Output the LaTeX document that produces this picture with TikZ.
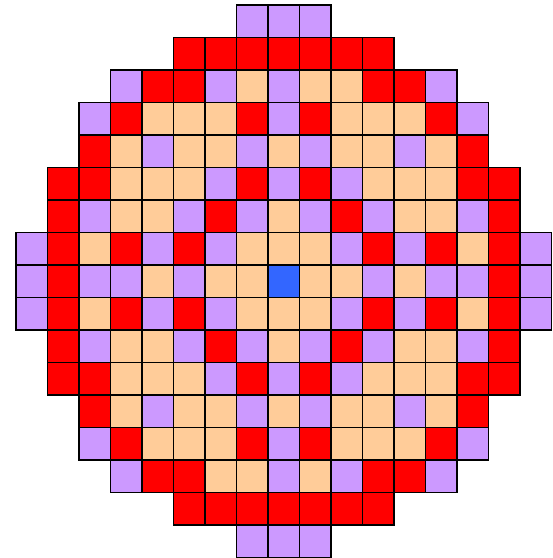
\documentclass[tikz,border=0pt]{standalone}
\usepackage{tikz}

% Colores del mapa de carga (un color por tipo de celda)
\definecolor{L}{RGB}{204,153,255}
\definecolor{R}{RGB}{255,0,0}
\definecolor{P}{RGB}{255,204,153}
\definecolor{B}{RGB}{51,102,255}

\begin{document}
\begin{tikzpicture}[x=1pt, y=-1pt,
    celda/.style={draw=black, line width=1.6pt}]
    % Marco de la imagen
    \useasboundingbox (0,0) rectangle (553,558);

    % Mapa de celdas, fila por fila (O = sin celda)
    \foreach \fila [count=\r from 0] in {
        {O,O,O,O,O,O,O,L,L,L,O,O,O,O,O,O,O},
        {O,O,O,O,O,R,R,R,R,R,R,R,O,O,O,O,O},
        {O,O,O,L,R,R,L,P,L,P,P,R,R,L,O,O,O},
        {O,O,L,R,P,P,P,R,L,R,P,P,P,R,L,O,O},
        {O,O,R,P,L,P,P,L,P,L,P,P,L,P,R,O,O},
        {O,R,R,P,P,P,L,R,L,R,L,P,P,P,R,R,O},
        {O,R,L,P,P,L,R,L,P,L,R,L,P,P,L,R,O},
        {L,R,P,R,L,R,L,P,P,P,L,R,L,R,P,R,L},
        {L,R,L,L,P,L,P,P,B,P,P,L,P,L,L,R,L},
        {L,R,P,R,L,R,L,P,P,P,L,R,L,R,P,R,L},
        {O,R,L,P,P,L,R,L,P,L,R,L,P,P,L,R,O},
        {O,R,R,P,P,P,L,R,L,R,L,P,P,P,R,R,O},
        {O,O,R,P,L,P,P,L,P,L,P,P,L,P,R,O,O},
        {O,O,L,R,P,P,P,R,L,R,P,P,P,R,L,O,O},
        {O,O,O,L,R,R,P,P,L,P,L,R,R,L,O,O,O},
        {O,O,O,O,O,R,R,R,R,R,R,R,O,O,O,O,O},
        {O,O,O,O,O,O,O,L,L,L,O,O,O,O,O,O,O}}
      \foreach \tipo [count=\c from 0] in \fila {
        \if\tipo O\else
          \path[celda, fill=\tipo]
              ({16+31.5*\c},{5+32.5*\r}) rectangle ++(31.5,32.5);
        \fi
      }
\end{tikzpicture}
\end{document}
